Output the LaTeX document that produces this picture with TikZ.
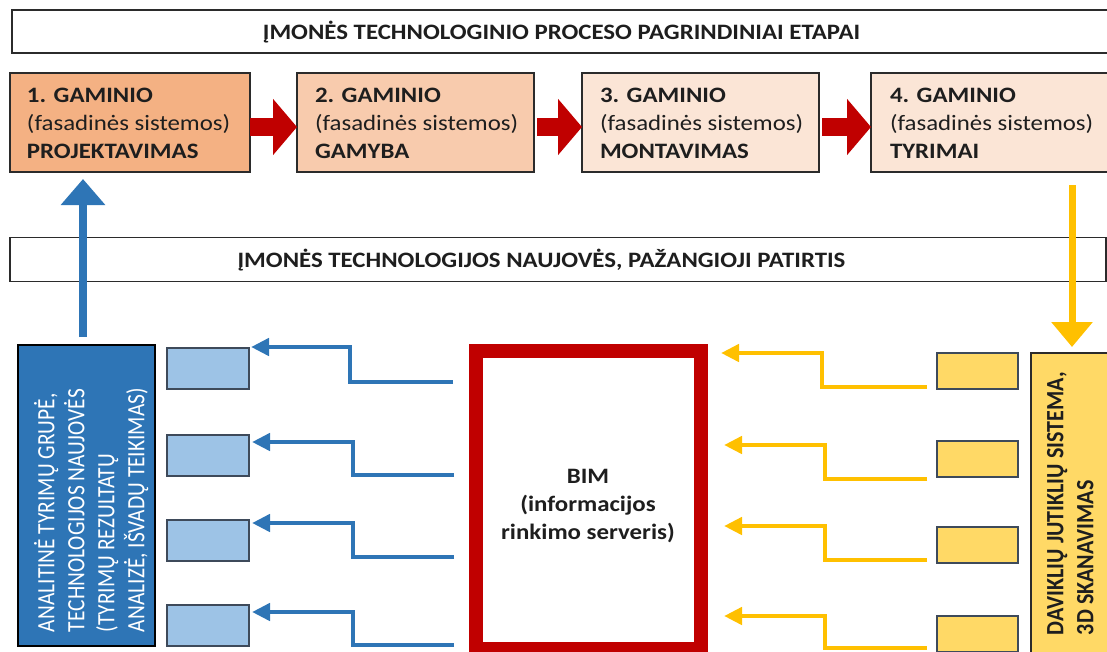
\documentclass[tikz,border=0pt]{standalone}
\usepackage{fontspec}
\setmainfont{Carlito}
\newfontfamily\hfont{Carlito}[FakeStretch=1.13]
\newfontfamily\vfont{Carlito}[FakeStretch=0.885]
\newfontfamily\vfontn{Carlito}[FakeStretch=0.86]
\usetikzlibrary{arrows.meta}
\definecolor{boxline}{HTML}{2B2B2B}
\definecolor{pfillA}{HTML}{F4B183}
\definecolor{pfillB}{HTML}{F8CBAD}
\definecolor{pfillC}{HTML}{FBE5D6}
\definecolor{arrred}{HTML}{C00000}
\definecolor{darkblue}{HTML}{2E75B6}
\definecolor{lightblue}{HTML}{9DC3E6}
\definecolor{smallline}{HTML}{3E4A5A}
\definecolor{yelbox}{HTML}{FFD966}
\definecolor{yelarr}{HTML}{FFC000}
\definecolor{txt}{HTML}{1E1E1E}
\begin{document}
\begin{tikzpicture}[x=1pt,y=-1pt,
  every node/.style={inner sep=0pt, outer sep=0pt},
  banner/.style={draw=boxline, line width=1.5pt, fill=white, minimum height=43pt},
  bannertext/.style={text=txt, font=\hfont\fontsize{22}{28}\selectfont\bfseries},
  procbox/.style={draw=boxline, line width=1.5pt, minimum width=237pt, minimum height=99pt},
  proctext/.style={anchor=north west, align=left, text=txt, font=\hfont\fontsize{22}{28}\selectfont},
  redarrow/.style={draw=arrred, line width=18pt, -{Triangle[length=24pt,width=55pt]}},
  bigup/.style={draw=darkblue, line width=8pt, -{Triangle[length=26pt,width=43pt]}},
  bigdown/.style={draw=yelarr, line width=7pt, -{Triangle[length=25pt,width=40pt]}},
  bluec/.style={draw=darkblue, line width=4.5pt, -{Triangle[length=18pt,width=17pt]}},
  yelc/.style={draw=yelarr, line width=4.5pt, -{Triangle[length=18pt,width=17pt]}},
  lbox/.style={draw=smallline, fill=lightblue, line width=1.5pt, minimum width=82pt, minimum height=41pt},
  ybox/.style={draw=smallline, fill=yelbox, line width=1.5pt, minimum width=81pt, minimum height=36pt},
  vtext/.style={rotate=90, anchor=north west, align=left, font=\vfont\fontsize{24.9}{30}\selectfont},
]
\useasboundingbox (0,0) rectangle (1107,651);
\clip (0,0) rectangle (1107,651);

% banners
\node[banner, minimum width=1098pt] (ban1) at (561,31.5) {};
\node[bannertext, anchor=base] (ban1t) at (561.5,39.5) {ĮMONĖS TECHNOLOGINIO PROCESO PAGRINDINIAI ETAPAI};
\node[banner, minimum width=1096pt, minimum height=44pt] (ban2) at (558,259.5) {};
\node[bannertext, anchor=base] (ban2t) at (541.5,267) {ĮMONĖS TECHNOLOGIJOS NAUJOVĖS, PAŽANGIOJI PATIRTIS};

% process boxes
\node[procbox, fill=pfillA, minimum width=240pt] (p1) at (130,122.5) {};
\node[procbox, fill=pfillB] (p2) at (415.5,122.5) {};
\node[procbox, fill=pfillC] (p3) at (700.5,122.5) {};
\node[procbox, fill=pfillC] (p4) at (989.5,122.5) {};
\node[proctext] (p1t) at ([xshift=17pt]p1.west |- 0,88) {\textbf{1. GAMINIO}\\(fasadinės sistemos)\\\textbf{PROJEKTAVIMAS}};
\node[proctext] (p2t) at ([xshift=18pt]p2.west |- 0,88) {\textbf{2. GAMINIO}\\(fasadinės sistemos)\\\textbf{GAMYBA}};
\node[proctext] (p3t) at ([xshift=18pt]p3.west |- 0,88) {\textbf{3. GAMINIO}\\(fasadinės sistemos)\\\textbf{MONTAVIMAS}};
\node[proctext] (p4t) at ([xshift=19pt]p4.west |- 0,88) {\textbf{4. GAMINIO}\\(fasadinės sistemos)\\\textbf{TYRIMAI}};

\draw[redarrow] (p1.east |- 0,127) -- (p2.west |- 0,127);
\draw[redarrow] ([xshift=3pt]p2.east |- 0,127) -- (p3.west |- 0,127);
\draw[redarrow] ([xshift=3pt]p3.east |- 0,127) -- (p4.west |- 0,127);

% left group
\node[draw=black, fill=darkblue, line width=1.8pt, minimum width=137pt, minimum height=301pt] (lbig) at (86.5,495.5) {};
\node[vtext, text=white, font=\vfontn\fontsize{24.9}{30}\selectfont] (lbigt) at (34,632)
  {ANALITINĖ TYRIMŲ GRUPĖ,\\TECHNOLOGIJOS NAUJOVĖS\\(TYRIMŲ REZULTATŲ\\ANALIZĖ, IŠVADŲ TEIKIMAS)};
\node[lbox] (lb1) at (208,368.5) {};
\node[lbox] (lb2) at (208,455.5) {};
\node[lbox] (lb3) at (208,540.5) {};
\node[lbox] (lb4) at (208,625.5) {};

% BIM
\node[draw=arrred, line width=14pt, fill=white, minimum width=225pt, minimum height=298pt] (bim) at (588.5,500) {};
\node[align=center, text=txt, font=\hfont\fontsize{22}{28}\selectfont\bfseries] (bimt) at (588,506)
  {BIM\\(informacijos\\rinkimo serveris)};

% right group
\node[draw=boxline, fill=yelbox, line width=1.5pt, minimum width=82pt, minimum height=302pt] (ybig) at (1072,504) {};
\node[vtext, text=txt, font=\vfont\fontsize{24.9}{30}\selectfont\bfseries] (ybigt) at (1047,635)
  {DAVIKLIŲ JUTIKLIŲ SISTEMA,\\3D SKANAVIMAS};
\node[ybox] (yb1) at (977.5,371) {};
\node[ybox] (yb2) at (977.5,459) {};
\node[ybox] (yb3) at (977.5,545) {};
\node[ybox] (yb4) at (977.5,634) {};

% big vertical arrows
\draw[bigup] ([xshift=-3.5pt,yshift=8pt]lbig.north) -- ([xshift=-3.5pt]lbig.north |- 0,179);
\draw[bigdown] (ybig.north |- 0,185) -- ([yshift=6pt]ybig.north);

% blue connectors (BIM -> light boxes)
\coordinate (bs1) at (453,382);
\coordinate (bs2) at (454,475);
\coordinate (bs3) at (454,557);
\coordinate (bs4) at (454,645);
\draw[bluec] (bs1) -- (350,382) |- ([xshift=2pt,yshift=1pt]lb1.north east);
\draw[bluec] (bs2) -- (353,475) |- ([xshift=3pt,yshift=-7pt]lb2.north east);
\draw[bluec] (bs3) -- (353,557) |- ([xshift=3pt,yshift=-3pt]lb3.north east);
\draw[bluec] (bs4) -- (353,645) |- ([xshift=3pt,yshift=-7pt]lb4.north east);

% yellow connectors (yellow boxes -> BIM)
\coordinate (ye1) at (721,353);
\coordinate (ye2) at (724,445);
\coordinate (ye3) at (724,526);
\coordinate (ye4) at (724,616);
\draw[yelc] ([xshift=-10pt,yshift=2pt]yb1.south west) -- (822,387) |- (ye1);
\draw[yelc] ([xshift=-10pt,yshift=-2pt]yb2.south west) -- (825,479) |- (ye2);
\draw[yelc] ([xshift=-10pt,yshift=3pt]yb3.south west) -- (825,560) |- (ye3);
\draw[yelc] ([xshift=-10pt,yshift=4pt]yb4.south west) -- (825,648) |- (ye4);
\end{tikzpicture}
\end{document}
